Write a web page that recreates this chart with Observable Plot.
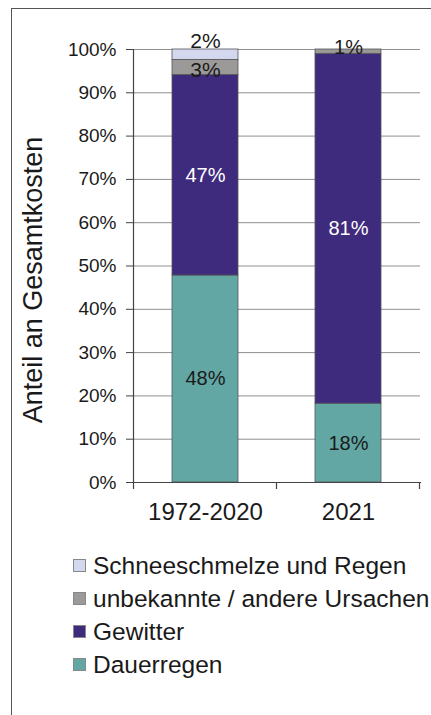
<!DOCTYPE html>
<html>
<head>
<meta charset="utf-8">
<script src="https://cdn.jsdelivr.net/npm/d3@7"></script>
<script src="https://cdn.jsdelivr.net/npm/@observablehq/plot@0.6"></script>
<style>
  html, body { margin: 0; padding: 0; background: #fff; }
  body { width: 431px; height: 715px; position: relative; overflow: hidden;
         font-family: "Liberation Sans", Arial, sans-serif; color: #1a1a1a; }
  #border { position: absolute; left: 11px; top: 8px; width: 420px; height: 707px;
            border-left: 1.5px solid #555; border-top: 1.5px solid #555; pointer-events: none; }
  #chart svg { display: block; }
  #legend { padding-left: 73px; margin-top: 9px; }
  .item { display: flex; align-items: center; height: 33px; font-size: 24.5px; white-space: nowrap; }
  .sw { width: 11px; height: 11px; border: 1px solid #888; margin-right: 7px; flex: none; }
</style>
</head>
<body>
<div id="chart"></div>
<div id="legend"></div>
<div id="border"></div>
<script>
// ---- data ----
const periods = ["1972-2020", "2021"];
const causes = ["Dauerregen", "Gewitter", "unbekannte / andere Ursachen", "Schneeschmelze und Regen"]; // bottom -> top
const colors = ["#63a7a5", "#3f2b7d", "#9c9999", "#d3d8ef"];
const values1972 = [47.8, 46.3, 3.5, 2.4];
const values2021 = [18.2, 80.8, 1.0, 0];
const labels1972 = ["48%", "47%", "3%", "2%"];
const labels2021 = ["18%", "81%", "1%", ""];
const yTicks = [0, 10, 20, 30, 40, 50, 60, 70, 80, 90, 100];
const legendOrder = ["Schneeschmelze und Regen", "unbekannte / andere Ursachen", "Gewitter", "Dauerregen"];

const rows = [];
causes.forEach((c, i) => rows.push({period: periods[0], cause: c, value: values1972[i], label: labels1972[i]}));
causes.forEach((c, i) => rows.push({period: periods[1], cause: c, value: values2021[i], label: labels2021[i]}));

const font = "Liberation Sans, Arial, sans-serif";
const W = 431, H = 540, ML = 133, MR = 11, MT = 49, MB = 58;

function boundaryTicks(index, scales, values, dims) {
  const x = scales.x;
  const y0 = scales.y(0);
  let xs;
  if (x && x.step && x.bandwidth) {
    const gap = (x.step() - x.bandwidth()) / 2;
    xs = periods.map(p => x(p) - gap);
    xs.push(x(periods[periods.length - 1]) + x.bandwidth() + gap);
  } else {
    const w = (dims.width - dims.marginLeft - dims.marginRight) / periods.length;
    xs = d3.range(periods.length + 1).map(i => dims.marginLeft + i * w);
  }
  const g = d3.create("svg:g").attr("stroke", "#444").attr("stroke-width", 1.2);
  xs.forEach(v => g.append("line").attr("x1", v).attr("x2", v).attr("y1", y0).attr("y2", y0 + 7));
  return g.node();
}

const textOpts = (filterFn) => Plot.stackY({
  x: "period", y: "value", z: "cause", order: causes,
  text: d => filterFn(d) ? d.label : ""
});

const chart = Plot.plot({
  width: W, height: H,
  marginLeft: ML, marginRight: MR, marginTop: MT, marginBottom: MB,
  style: {fontFamily: font, background: "transparent", color: "#1a1a1a"},
  x: {domain: periods, paddingInner: 0.54, paddingOuter: 0.27, axis: null},
  y: {domain: [0, 100], axis: null},
  color: {domain: causes, range: colors},
  marks: [
    Plot.gridY(yTicks, {stroke: "#8f8f8f", strokeOpacity: 1, strokeWidth: 1}),
    Plot.barY(rows, {x: "period", y: "value", fill: "cause", z: "cause", order: causes,
                     stroke: "#555", strokeWidth: 0.8}),
    Plot.axisY({ticks: yTicks, tickFormat: d => d + "%", tickSize: 7, tickPadding: 10, label: null,
                fontSize: 19, stroke: "#444", fill: "#1a1a1a"}),
    Plot.frame({anchor: "left", stroke: "#444", strokeWidth: 1.2}),
    Plot.frame({anchor: "bottom", stroke: "#444", strokeWidth: 1.2}),
    boundaryTicks,
    Plot.axisX({tickSize: 0, tickPadding: 20, fontSize: 24, fill: "#1a1a1a", label: null}),
    // large segment labels
    Plot.text(rows, {...textOpts(d => d.cause === "Gewitter"), fill: "#ffffff", fontSize: 20}),
    Plot.text(rows, {...textOpts(d => d.cause === "Dauerregen"), fill: "#1a1a1a", fontSize: 20}),
    // small segment labels
    Plot.text(rows, {...textOpts(d => d.period === "1972-2020" && d.cause === "Schneeschmelze und Regen"), fill: "#1a1a1a", fontSize: 21, dy: -13}),
    Plot.text(rows, {...textOpts(d => d.period === "1972-2020" && d.cause === "unbekannte / andere Ursachen"), fill: "#1a1a1a", fontSize: 21, dy: 3}),
    Plot.text(rows, {...textOpts(d => d.period === "2021" && d.cause === "unbekannte / andere Ursachen"), fill: "#1a1a1a", fontSize: 20, dy: -4}),
    // y-axis title
    Plot.text(["Anteil an Gesamtkosten"], {
      frameAnchor: "left", dx: -100, dy: 14, rotate: -90, text: d => d,
      fontSize: 27, fill: "#1a1a1a", textAnchor: "middle"
    })
  ]
});
document.getElementById("chart").appendChild(chart);

// legend
const legend = document.getElementById("legend");
legendOrder.forEach(c => {
  const it = document.createElement("div");
  it.className = "item";
  const sw = document.createElement("span");
  sw.className = "sw";
  sw.style.background = colors[causes.indexOf(c)];
  const t = document.createElement("span");
  t.textContent = c;
  it.appendChild(sw); it.appendChild(t);
  legend.appendChild(it);
});
</script>
</body>
</html>
